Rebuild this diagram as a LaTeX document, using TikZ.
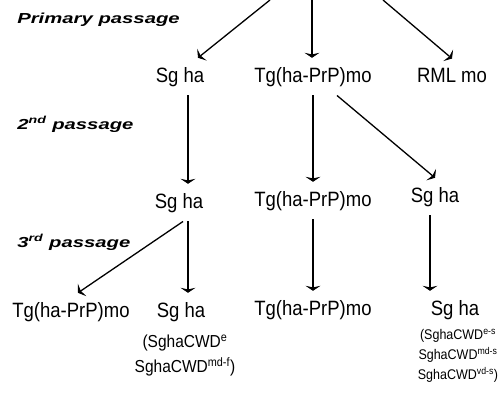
\documentclass[tikz,border=0pt]{standalone}
\usepackage{fontspec}
\setmainfont{Liberation Sans}
\usetikzlibrary{arrows.meta}

\begin{document}
\begin{tikzpicture}[x=1pt,y=-1pt,
    passage/.style={anchor=base west, inner sep=0pt, xscale=1.4, transform shape,
      font=\bfseries\itshape\fontsize{14.5}{16}\selectfont},
    strain/.style={anchor=base, inner xsep=1pt, inner ysep=8pt, yscale=1.12, transform shape,
      font=\fontsize{18.5}{20}\selectfont},
    isolate/.style={anchor=north, inner sep=0pt, align=center, yscale=1.12, transform shape},
    link/.style={line width=1.3pt, -{Stealth[length=5pt,width=15pt]}}]
    \useasboundingbox (0,0) rectangle (501,402);
    % passage labels
    \node [passage] (p1) at (17,23) {Primary passage};
    \node [passage] (p2) at (17,129) {2\textsuperscript{nd} passage};
    \node [passage] (p3) at (17,247) {3\textsuperscript{rd} passage};
    % primary passage
    \node [strain] (s1) at (180,82) {Sg ha};
    \node [strain] (t1) at (313,82) {Tg(ha-PrP)mo};
    \node [strain] (r1) at (452,82) {RML mo};
    % 2nd passage
    \node [strain] (s2) at (179,208) {Sg ha};
    \node [strain] (t2) at (313,206) {Tg(ha-PrP)mo};
    \node [strain] (s2r) at (435,202) {Sg ha};
    % 3rd passage
    \node [strain] (t3) at (71,317) {Tg(ha-PrP)mo};
    \node [strain] (s3) at (181,317) {Sg ha};
    \node [strain] (t3m) at (313,315) {Tg(ha-PrP)mo};
    \node [strain] (s3r) at (455,315) {Sg ha};
    \node [isolate, font=\fontsize{15.5}{16}\selectfont] (c3) at (185,335)
      {(SghaCWD\textsuperscript{e}\\[4.5pt]
      SghaCWD\textsuperscript{md-f})};
    \node [isolate, font=\fontsize{12.5}{16}\selectfont] (c3r) at (458,329)
      {(SghaCWD\textsuperscript{e-s}\\[2pt]
      SghaCWD\textsuperscript{md-s}\\[2pt]
      SghaCWD\textsuperscript{vd-s})};
    % incoming lines from above
    \coordinate (srcl) at (270,0);
    \coordinate (srcm) at (312,0);
    \coordinate (srcr) at (383,0);
    \draw [link] (srcl) -- ([xshift=18pt]s1.north);
    \draw [link] (srcm) -- (srcm |- t1.north);
    \draw [link] (srcr) -- (r1.north);
    % primary to 2nd
    \draw [link] ([xshift=8pt]s1.south) -- ([xshift=8pt]s1.south |- s2.north);
    \draw [link] (t1.south) -- (t1.south |- t2.north);
    \draw [link] ([xshift=24pt]t1.south) -- (s2r.north);
    % 2nd to 3rd
    \draw [link] ([xshift=4pt]s2.south) -- ([xshift=7pt]t3.north);
    \draw [link] ([xshift=9pt]s2.south) -- ([xshift=9pt]s2.south |- s3.north);
    \draw [link] (t2.south) -- (t2.south |- t3m.north);
    \draw [link] ([xshift=-5pt]s2r.south) -- ([xshift=-5pt]s2r.south |- s3r.north);
\end{tikzpicture}
\end{document}
